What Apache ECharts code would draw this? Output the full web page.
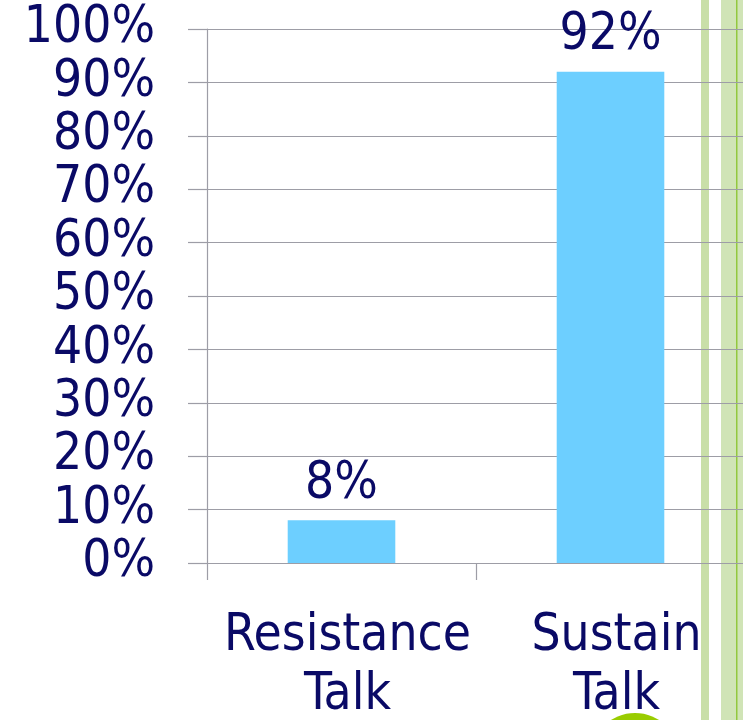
<!DOCTYPE html>
<html>
<head>
<meta charset="utf-8">
<script src="https://cdn.jsdelivr.net/npm/echarts@6/dist/echarts.min.js"></script>
<style>
  html, body { margin: 0; padding: 0; background: #fff; }
  #chart { width: 743px; height: 720px; }
</style>
</head>
<body>
<div id="chart"></div>
<script>
// talk types and their share of utterances
const categories = ['Resistance\nTalk', 'Sustain\nTalk'];
const shares = [8, 92];
const yTicks = { min: 0, max: 100, step: 10 };

const navy = '#0a0a66';
const gridGray = '#9d9da6';
const barBlue = '#6dcfff';
const font = '"DejaVu Sans Condensed", "DejaVu Sans", sans-serif';

const chart = echarts.init(document.getElementById('chart'));

chart.setOption({
  animation: false,
  grid: { left: 207, right: -2, top: 29, bottom: 157, containLabel: false, outerBoundsMode: 'none' },
  xAxis: {
    type: 'category',
    data: categories,
    boundaryGap: true,
    axisLine: { show: true, lineStyle: { color: gridGray, width: 1.2 } },
    axisTick: { show: true, length: 17, alignWithLabel: false, lineStyle: { color: gridGray, width: 1.2 } },
    axisLabel: {
      color: navy,
      fontFamily: font,
      fontSize: 51,
      lineHeight: 59,
      margin: 44,
      padding: [0, 0, 0, 12],
      interval: 0
    },
    splitLine: { show: false }
  },
  yAxis: {
    type: 'value',
    min: yTicks.min,
    max: yTicks.max,
    interval: yTicks.step,
    axisLine: { show: true, lineStyle: { color: gridGray, width: 1.2 } },
    axisTick: { show: true, length: 19, lineStyle: { color: gridGray, width: 1.2 } },
    axisLabel: {
      color: navy,
      fontFamily: font,
      fontSize: 51,
      margin: 52,
      padding: [11, 0, 0, 0],
      formatter: '{value}%'
    },
    splitLine: { show: true, lineStyle: { color: gridGray, width: 1.2 } }
  },
  series: [
    {
      type: 'bar',
      data: shares,
      barWidth: '40%',
      itemStyle: { color: barBlue },
      label: {
        show: true,
        position: 'top',
        distance: 10,
        color: navy,
        fontFamily: font,
        fontSize: 51,
        formatter: '{c}%'
      }
    }
  ],
  graphic: [
    // slide decoration on the right edge
    { type: 'rect', z: -10, shape: { x: 701, y: 0, width: 8, height: 720 }, style: { fill: '#c9dfa8' } },
    { type: 'rect', z: -10, shape: { x: 721, y: 0, width: 22, height: 720 }, style: { fill: '#d0e4b6' } },
    { type: 'rect', z: -9, shape: { x: 736, y: 0, width: 1.5, height: 720 }, style: { fill: '#92c83e' } },
    { type: 'circle', z: 100, shape: { cx: 635, cy: 758, r: 45 }, style: { fill: '#99cc00' } }
  ]
});
</script>
</body>
</html>
